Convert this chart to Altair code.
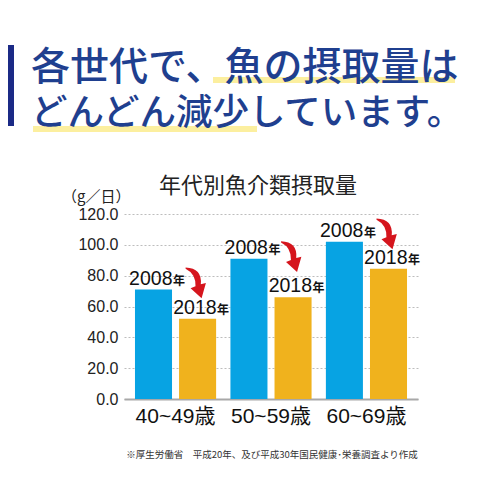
import altair as alt
import pandas as pd

# ---- data ----
age_groups = ["40~49歳", "50~59歳", "60~69歳"]
years = ["2008", "2018"]
intake_2008 = [71.0, 91.0, 102.0]
intake_2018 = [52.0, 66.0, 84.5]
y_ticks = [0, 20, 40, 60, 80, 100, 120]

headline_1 = "各世代で、魚の摂取量は"
headline_2 = "どんどん減少しています。"
chart_title = "年代別魚介類摂取量"
unit_label = "（g／日）"
source_note = "※厚生労働省　平成20年、及び平成30年国民健康･栄養調査より作成"

BLUE = "#07a3e3"
ORANGE = "#f0b21d"
RED = "#d5151d"
NAVY = "#1b2a86"
HEAD = "#1f3f8f"
HILITE = "#fcef9f"
NUMFONT = "Liberation Sans, Noto Sans CJK JP"
JPFONT = "Noto Sans CJK JP"

rows = []
for g, a, b in zip(age_groups, intake_2008, intake_2018):
    rows.append({"age": g, "year": years[0], "value": a})
    rows.append({"age": g, "year": years[1], "value": b})
bars_df = pd.DataFrame(rows)

arrow_df = pd.DataFrame({
    "age": age_groups,
    "year": [years[1]] * len(age_groups),
    "mid": [(a + b) / 2 for a, b in zip(intake_2008, intake_2018)],
})

x_axis = alt.Axis(title=None, labelAngle=0, ticks=False, labelFontSize=21,
                  labelFont=NUMFONT, labelColor="#111", labelPadding=6,
                  domainColor="#a8a8a8", domainWidth=2, grid=False)
y_axis = alt.Axis(title=None, values=y_ticks, format=".1f", ticks=False,
                  domain=False, labelFontSize=16, labelFont=NUMFONT,
                  labelColor="#222", labelPadding=6, grid=True,
                  labelOverlap=False, labelFlush=False,
                  gridColor="#bdbdbd", gridDash=[2, 2], gridWidth=1)
x_scale = alt.Scale(paddingInner=0.15, paddingOuter=0.115)
xo_scale = alt.Scale(paddingInner=0.16, paddingOuter=0)
y_scale = alt.Scale(domain=[0, 120], nice=False)


def X():
    return alt.X("age:N", sort=age_groups, scale=x_scale, axis=x_axis)


def XO():
    return alt.XOffset("year:N", sort=years, scale=xo_scale)


def Y(field):
    return alt.Y(field, type="quantitative", scale=y_scale, axis=y_axis)


bars = alt.Chart(bars_df).mark_bar().encode(
    x=X(), xOffset=XO(), y=Y("value"),
    color=alt.Color("year:N", sort=years,
                    scale=alt.Scale(domain=years, range=[BLUE, ORANGE]), legend=None),
)

lab_num = alt.Chart(bars_df).mark_text(
    align="right", baseline="alphabetic", dx=19, dy=-5, fontSize=19.5,
    font="Liberation Sans", color="#111"
).encode(x=X(), xOffset=XO(), y=Y("value"), text="year:N")

lab_nen = alt.Chart(bars_df).mark_text(
    align="left", baseline="alphabetic", dx=19.5, dy=-5, fontSize=12,
    font=JPFONT, fontWeight="bold", color="#111"
).encode(x=X(), xOffset=XO(), y=Y("value"), text=alt.value("年"))

# curved arrow glyph (unit path, shifted up-left of its anchor point)
arrow_path = ("M -0.75 -2.3 Q 0.3 -2.25 0.2 -1.25 L 0.52 -1.32 L 0.25 -0.37 "
              "L -0.44 -1.0 L -0.13 -1.12 Q -0.1 -1.9 -0.75 -2.22 Z")
arrows = alt.Chart(arrow_df).mark_point(
    shape=arrow_path, filled=True, color=RED, opacity=1, size=1024, strokeWidth=0
).encode(x=X(), xOffset=XO(), y=Y("mid"))

deco_df = pd.DataFrame({"k": [0]})

navy_bar = alt.Chart(deco_df).mark_rect(color=NAVY).encode(
    x=alt.value(-116), x2=alt.value(-110), y=alt.value(-169), y2=alt.value(-88))
hl1 = alt.Chart(deco_df).mark_rect(color=HILITE).encode(
    x=alt.value(89), x2=alt.value(331), y=alt.value(-137), y2=alt.value(-131))
hl2 = alt.Chart(deco_df).mark_rect(color=HILITE).encode(
    x=alt.value(-91), x2=alt.value(133), y=alt.value(-88), y2=alt.value(-82))

head1 = alt.Chart(deco_df).mark_text(
    align="left", baseline="middle", fontSize=39, font=JPFONT, fontWeight=500, color=HEAD
).encode(x=alt.value(-93), y=alt.value(-146), text=alt.value(headline_1))
head2 = alt.Chart(deco_df).mark_text(
    align="left", baseline="middle", fontSize=36.5, font=JPFONT, fontWeight=500, color=HEAD
).encode(x=alt.value(-93), y=alt.value(-100), text=alt.value(headline_2))

title_t = alt.Chart(deco_df).mark_text(
    align="center", baseline="middle", fontSize=22, font=JPFONT, color="#222"
).encode(x=alt.value(134), y=alt.value(-28), text=alt.value(chart_title))
unit_t = alt.Chart(deco_df).mark_text(
    align="left", baseline="middle", fontSize=15, font=JPFONT, color="#222"
).encode(x=alt.value(-62), y=alt.value(-17), text=alt.value(unit_label))
note_t = alt.Chart(deco_df).mark_text(
    align="center", baseline="middle", fontSize=9.5, font=JPFONT, color="#333"
).encode(x=alt.value(148), y=alt.value(241), text=alt.value(source_note))

chart = alt.layer(
    navy_bar, hl1, hl2, head1, head2, title_t, unit_t, note_t,
    bars, lab_num, lab_nen, arrows
).properties(
    width=294, height=185,
    autosize=alt.AutoSizeParams(type="none"),
    padding={"left": 116, "top": 206, "right": 74, "bottom": 93},
    background="white",
).configure_view(stroke=None)

chart.save("out.html", embed_options={"renderer": "svg", "actions": False})
